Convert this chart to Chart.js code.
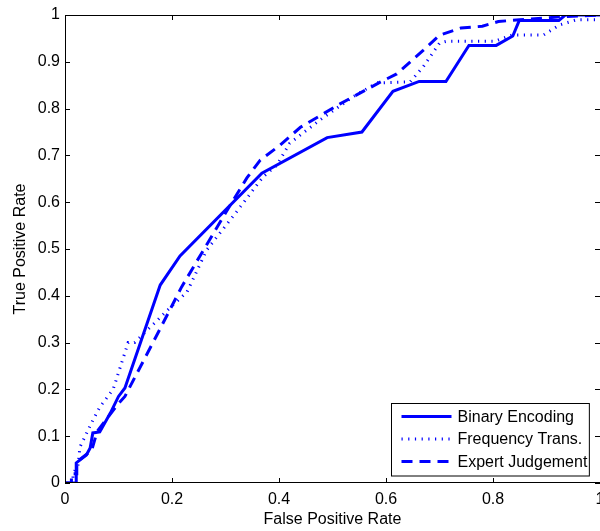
<!DOCTYPE html>
<html>
<head>
<meta charset="utf-8">
<script src="https://cdn.jsdelivr.net/npm/chart.js@4.4.0/dist/chart.umd.min.js"></script>
<style>
  html, body { margin: 0; padding: 0; background: #fff; overflow: hidden; }
  #wrap { width: 600px; height: 531px; position: relative; }
</style>
</head>
<body>
<div id="wrap"><canvas id="roc"></canvas></div>
<script>
// ROC curves, values
const binaryFpr = [0, 0.021, 0.021, 0.04, 0.047, 0.052, 0.065, 0.085, 0.1, 0.112, 0.178, 0.215, 0.368, 0.49, 0.555, 0.613, 0.662, 0.712, 0.755, 0.806, 0.837, 0.849, 0.923, 0.935, 1];
const binaryTpr = [0, 0, 0.043, 0.06, 0.075, 0.107, 0.109, 0.15, 0.185, 0.203, 0.423, 0.485, 0.662, 0.738, 0.75, 0.837, 0.858, 0.858, 0.935, 0.935, 0.955, 0.988, 0.988, 1, 1];

const freqFpr = [0, 0.015, 0.015, 0.024, 0.028, 0.052, 0.065, 0.09, 0.118, 0.13, 0.196, 0.228, 0.265, 0.323, 0.37, 0.396, 0.42, 0.477, 0.538, 0.583, 0.645, 0.67, 0.7, 0.714, 0.804, 0.835, 0.894, 0.925, 0.957, 1];
const freqTpr = [0, 0, 0.02, 0.036, 0.077, 0.134, 0.162, 0.2, 0.3, 0.3, 0.374, 0.408, 0.498, 0.583, 0.654, 0.679, 0.726, 0.776, 0.825, 0.855, 0.857, 0.89, 0.94, 0.944, 0.944, 0.957, 0.957, 0.979, 0.99, 0.99];

const expertFpr = [0, 0.012, 0.012, 0.022, 0.022, 0.05, 0.06, 0.1, 0.112, 0.178, 0.218, 0.3, 0.34, 0.365, 0.4, 0.44, 0.514, 0.59, 0.62, 0.67, 0.7, 0.74, 0.78, 0.81, 0.85, 0.925, 1];
const expertTpr = [0, 0, 0.02, 0.02, 0.045, 0.07, 0.11, 0.17, 0.185, 0.33, 0.419, 0.577, 0.652, 0.69, 0.72, 0.76, 0.81, 0.857, 0.874, 0.925, 0.957, 0.972, 0.976, 0.986, 0.99, 0.996, 1];

const seriesLabels = ['Binary Encoding', 'Frequency Trans.', 'Expert Judgement'];
const xTicks = [0, 0.2, 0.4, 0.6, 0.8, 1];
const yTicks = [0, 0.1, 0.2, 0.3, 0.4, 0.5, 0.6, 0.7, 0.8, 0.9, 1];

const BLUE = '#0000ff';
const FONT = "'Liberation Sans', Arial, Helvetica, sans-serif";

const toPoints = (xs, ys) => xs.map((x, i) => ({ x: x, y: ys[i] }));
const tickText = v => String(Number(v.toFixed(2))); // 0, 0.1 ... 1 like matlab

// matlab-ish box with inward ticks + legend inside the axes
const matlabAxes = {
  id: 'matlabAxes',
  afterDatasetsDraw(chart) {
    const { ctx, chartArea: a, scales: { x, y } } = chart;
    ctx.save();
    ctx.strokeStyle = '#000';
    ctx.lineWidth = 1;
    ctx.beginPath();
    ctx.rect(a.left + 0.5, a.top + 0.5, a.right - a.left, a.bottom - a.top - 1);
    ctx.stroke();
    const tl = 5;
    ctx.beginPath();
    xTicks.forEach(v => {
      const px = Math.round(x.getPixelForValue(v)) + 0.5;
      ctx.moveTo(px, a.bottom); ctx.lineTo(px, a.bottom - tl);
      ctx.moveTo(px, a.top); ctx.lineTo(px, a.top + tl);
    });
    yTicks.forEach(v => {
      const py = Math.round(y.getPixelForValue(v)) + 0.5;
      ctx.moveTo(a.left, py); ctx.lineTo(a.left + tl, py);
      ctx.moveTo(a.right, py); ctx.lineTo(a.right - tl, py);
    });
    ctx.stroke();

    // legend
    ctx.font = '16px ' + FONT;
    const ds = chart.data.datasets;
    const textW = Math.max(...ds.map(d => ctx.measureText(d.label).width));
    const rowH = 22.5;
    const boxW = 10 + 50 + 6 + textW + 2;
    const boxH = rowH * ds.length + 5;
    const bx = Math.round(a.right - 11 - boxW) + 0.5;
    const by = Math.round(a.bottom - 8 - boxH) + 0.5;
    ctx.fillStyle = '#fff';
    ctx.fillRect(bx, by, boxW, boxH);
    ctx.strokeStyle = '#000';
    ctx.strokeRect(bx, by, boxW, boxH);
    ds.forEach((d, i) => {
      const ry = by + 13 + i * rowH;
      ctx.beginPath();
      ctx.strokeStyle = d.borderColor;
      ctx.lineWidth = d.borderWidth;
      ctx.setLineDash(d.borderDash || []);
      ctx.moveTo(bx + 10, ry);
      ctx.lineTo(bx + 60, ry);
      ctx.stroke();
      ctx.setLineDash([]);
      ctx.fillStyle = '#000';
      ctx.textBaseline = 'middle';
      ctx.textAlign = 'left';
      ctx.fillText(d.label, bx + 66, ry + 1);
    });
    ctx.restore();
  }
};

new Chart(document.getElementById('roc'), {
  type: 'scatter',
  data: {
    datasets: [
      {
        label: seriesLabels[0],
        data: toPoints(binaryFpr, binaryTpr),
        showLine: true,
        borderColor: BLUE,
        borderWidth: 3,
        pointRadius: 0,
        fill: false
      },
      {
        label: seriesLabels[1],
        data: toPoints(freqFpr, freqTpr),
        showLine: true,
        borderColor: BLUE,
        borderWidth: 3,
        borderDash: [1.2, 5.5],
        pointRadius: 0,
        fill: false
      },
      {
        label: seriesLabels[2],
        data: toPoints(expertFpr, expertTpr),
        showLine: true,
        borderColor: BLUE,
        borderWidth: 3,
        borderDash: [11, 7],
        pointRadius: 0,
        fill: false
      }
    ]
  },
  options: {
    responsive: true,
    maintainAspectRatio: false,
    animation: false,
    layout: { padding: { top: 15, right: 0, bottom: 0, left: 0 } },
    plugins: {
      legend: { display: false },
      tooltip: { enabled: false }
    },
    scales: {
      x: {
        type: 'linear',
        min: 0,
        max: 1,
        grid: { display: false, drawTicks: false },
        border: { display: false },
        ticks: {
          stepSize: 0.2,
          padding: 7,
          color: '#000',
          font: { family: FONT, size: 16 },
          callback: tickText
        },
        title: {
          display: true,
          text: 'False Positive Rate',
          color: '#000',
          font: { family: FONT, size: 16 },
          padding: { top: 0, bottom: 2 }
        },
        afterFit(scale) {
          scale.paddingLeft = 0;
          scale.paddingRight = 0;
          scale.height = 48;
        }
      },
      y: {
        type: 'linear',
        min: 0,
        max: 1,
        grid: { display: false, drawTicks: false },
        border: { display: false },
        ticks: {
          stepSize: 0.1,
          padding: 5,
          color: '#000',
          font: { family: FONT, size: 16 },
          callback: tickText
        },
        title: {
          display: true,
          text: 'True Positive Rate',
          color: '#000',
          font: { family: FONT, size: 16 },
          padding: { top: 11, bottom: 0 }
        },
        afterFit(scale) {
          scale.paddingTop = 0;
          scale.paddingBottom = 0;
          scale.width = 65;
        }
      }
    }
  },
  plugins: [matlabAxes]
});
</script>
</body>
</html>
